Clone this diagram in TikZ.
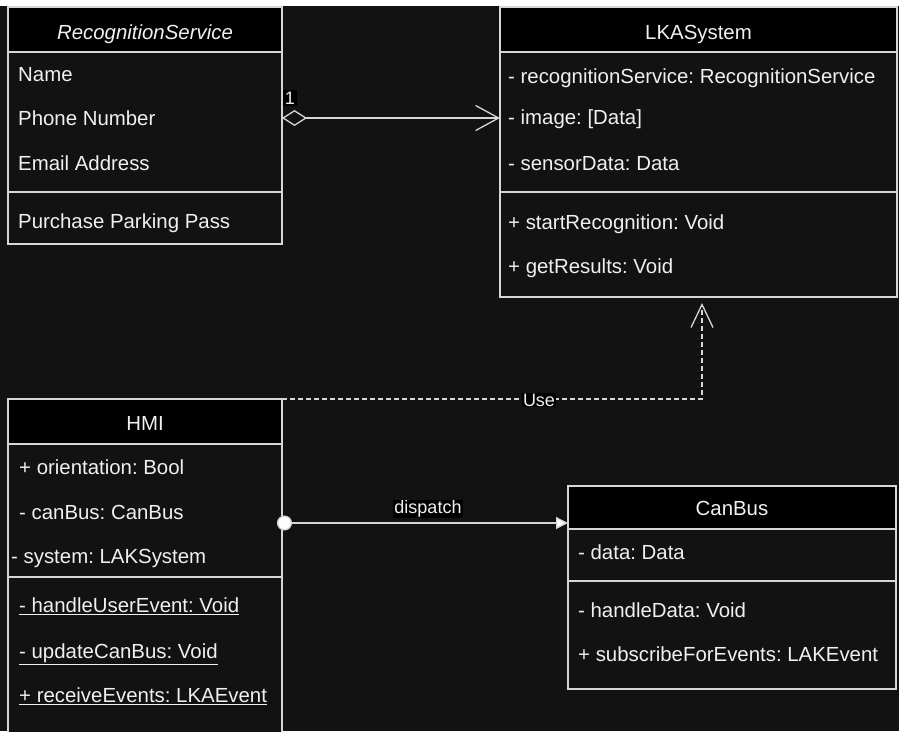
\documentclass[tikz,border=0pt]{standalone}
\usepackage{fontspec}
\setmainfont{Liberation Sans}
\usetikzlibrary{arrows.meta,calc}
\definecolor{bgc}{HTML}{121212}
\definecolor{linec}{HTML}{D6D6D6}
\definecolor{txtc}{HTML}{F0F0F0}
\newcommand\umlfont{\fontsize{20.4}{24}\selectfont}
\newcommand\umllabelfont{\fontsize{18}{21}\selectfont}
\frenchspacing
\tikzset{
  classbox/.style={draw=linec, line width=1.6pt, fill=bgc, rectangle,
    inner sep=0pt, outer sep=0pt, anchor=north west},
  classhead/.style={draw=linec, line width=1.6pt, fill=black, rectangle,
    inner sep=0pt, outer sep=0pt, anchor=north west},
  classtitle/.style={anchor=mid, inner sep=0pt, text=txtc, font=\umlfont},
  sepline/.style={draw=linec, line width=1.6pt},
  row/.style={anchor=mid west, inner sep=0pt, text=txtc, font=\umlfont},
  edgelabel/.style={fill=black, inner sep=1pt, text=txtc, font=\umllabelfont},
  aggregation/.style={draw=linec, line width=1.3pt,
    {Diamond[open,length=25pt,width=16pt]}-{Straight Barb[length=23pt,width=25pt]}},
  usage/.style={draw=linec, line width=1.3pt, dash pattern=on 5pt off 3pt,
    -{Straight Barb[length=23pt,width=22pt]}},
  dispatchline/.style={draw=linec, line width=1.3pt,
    {Circle[length=15pt,fill=white]}-{Triangle[length=12pt,width=12pt,fill=white]}},
}
\begin{document}
\begin{tikzpicture}[x=1pt,y=-1pt]
\useasboundingbox (0,0) rectangle (899,731);
\clip (0,0) rectangle (899,731);
\fill[bgc] (0,0) rectangle (899,731);
\fill[white] (0,0) rectangle (899,6);

% RecognitionService
\node[classbox, minimum width=274pt, minimum height=237pt] (rs) at (8,7) {};
\node[classhead, minimum width=274pt, minimum height=45pt] (rsH) at (8,7) {};
\node[classtitle] (rsT) at (145,37) {\itshape RecognitionService};
\draw[sepline] ([yshift=-185pt]rs.north west) -- ([yshift=-185pt]rs.north east);
\node[row] (rsName) at (18,79) {Name};
\node[row] (rsPhone) at (18,123) {Phone Number};
\node[row] (rsMail) at (18,168) {Email Address};
\node[row] (rsBuy) at (18,226) {Purchase Parking Pass};

% LKASystem
\node[classbox, minimum width=397pt, minimum height=290pt] (lka) at (500,7) {};
\node[classhead, minimum width=397pt, minimum height=45pt] (lkaH) at (500,7) {};
\node[classtitle] (lkaT) at (698.5,37) {LKASystem};
\draw[sepline] ([yshift=-185pt]lka.north west) -- ([yshift=-185pt]lka.north east);
\node[row] (lkaRec) at (508,81) {- recognitionService: RecognitionService};
\node[row] (lkaImg) at (508,122) {- image: [Data]};
\node[row] (lkaSens) at (508,168) {- sensorData: Data};
\node[row] (lkaStart) at (508,227) {+ startRecognition: Void};
\node[row] (lkaGet) at (508,271) {+ getResults: Void};

% HMI
\node[classbox, minimum width=274pt, minimum height=345pt] (hmi) at (8,399) {};
\node[classhead, minimum width=274pt, minimum height=45pt] (hmiH) at (8,399) {};
\node[classtitle] (hmiT) at (145,428) {HMI};
\draw[sepline] ([yshift=-178pt]hmi.north west) -- ([yshift=-178pt]hmi.north east);
\node[row] (hmiOri) at (19,472) {+ orientation: Bool};
\node[row] (hmiBus) at (19,517) {- canBus: CanBus};
\node[row] (hmiSys) at (11,561) {- system: LAKSystem};
\node[row] (hmiUser) at (19,610) {\underline{- handleUserEvent: Void}};
\node[row] (hmiUpd) at (19,656) {\underline{- updateCanBus: Void}};
\node[row] (hmiRecv) at (19,700) {\underline{+ receiveEvents: LKAEvent}};

% CanBus
\node[classbox, minimum width=328pt, minimum height=203pt] (cb) at (568,486) {};
\node[classhead, minimum width=328pt, minimum height=43pt] (cbH) at (568,486) {};
\node[classtitle] (cbT) at (732,513) {CanBus};
\draw[sepline] ([yshift=-95pt]cb.north west) -- ([yshift=-95pt]cb.north east);
\node[row] (cbData) at (578,557) {- data: Data};
\node[row] (cbHandle) at (578,615) {- handleData: Void};
\node[row] (cbSub) at (578,659) {+ subscribeForEvents: LAKEvent};

% Connectors
\coordinate (aggY) at (0,118);
\coordinate (dispY) at (0,523);
\draw[aggregation] (rs.east |- aggY) -- (lka.west |- aggY);
\node[edgelabel, inner sep=2pt] (aggMult) at (290,98) {1};

\draw[usage, shorten >=6pt] (hmi.north east) -| ([xshift=3.5pt]lka.south);
\node[edgelabel] (useLbl) at (539,400) {Use};

\draw[dispatchline, shorten <=-5pt] (hmi.east |- dispY) -- (cb.west |- dispY);
\node[edgelabel] (dispLbl) at (428,509) {dispatch};
\end{tikzpicture}
\end{document}
